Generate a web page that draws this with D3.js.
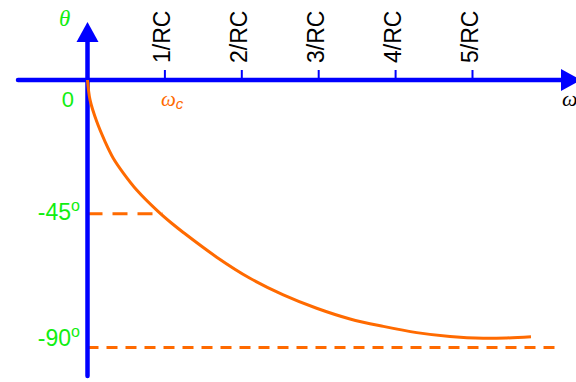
<!DOCTYPE html>
<html>
<head>
<meta charset="utf-8">
<script src="https://cdn.jsdelivr.net/npm/d3@7"></script>
<style>
html,body{margin:0;padding:0;background:#fff;}
svg{display:block;}
</style>
</head>
<body>
<svg id="chart" width="576" height="382"></svg>
<script>
// ---- data ----
const tickValues = [1, 2, 3, 4, 5];
const tickLabels = ["1/RC", "2/RC", "3/RC", "4/RC", "5/RC"];
const omega = [0, 0.033, 0.12, 0.228, 0.335, 0.466, 0.64, 0.917, 1.095, 1.246, 1.68, 2.113, 2.546, 2.98, 3.414, 3.847, 4.281, 4.714, 5.147, 5.45, 5.767];
const theta = [0, -6.7, -14.0, -20.7, -26.3, -31.3, -37.0, -44.2, -48.2, -51.3, -59.6, -66.7, -72.3, -76.8, -80.4, -82.9, -85.0, -86.3, -86.9, -86.8, -86.4];
const refLevels = [-45, -90];
const refEnds = [0.98, 6.17];
const yLabels = ["-45", "-90"];

// ---- scales ----
const x = d3.scaleLinear().domain([0, 1]).range([87.5, 164.4]);
const y = d3.scaleLinear().domain([0, -90]).range([80, 347.5]);

const svg = d3.select("#chart");
const BLUE = "#0000ff", ORANGE = "#ff6a00", GREEN = "#11ee11";

// reference dashed lines
const dashes = ["15,10", "11,8"];
refLevels.forEach((lv, i) => {
  svg.append("line")
    .attr("x1", x(0)).attr("x2", x(refEnds[i]))
    .attr("y1", y(lv)).attr("y2", y(lv))
    .attr("stroke", ORANGE).attr("stroke-width", 3)
    .attr("stroke-dasharray", dashes[i]);
});

// axes lines
svg.append("line").attr("x1", 18).attr("x2", 565).attr("y1", y(0)).attr("y2", y(0))
  .attr("stroke", BLUE).attr("stroke-width", 4.5).attr("stroke-linecap", "round");
svg.append("path").attr("d", `M561,${y(0)-11}L581,${y(0)}L561,${y(0)+11}Z`).attr("fill", BLUE);
svg.append("line").attr("x1", x(0)).attr("x2", x(0)).attr("y1", 40).attr("y2", 376)
  .attr("stroke", BLUE).attr("stroke-width", 4.5).attr("stroke-linecap", "round");
svg.append("path").attr("d", `M${x(0)-11},42L${x(0)},22L${x(0)+11},42Z`).attr("fill", BLUE);

// top ticks via d3 axis
const ax = svg.append("g").attr("transform", `translate(0,${y(0)})`)
  .call(d3.axisTop(x).tickValues(tickValues).tickSize(10)
    .tickFormat((d, i) => tickLabels[i]));
ax.select(".domain").remove();
ax.selectAll(".tick line").attr("stroke", BLUE).attr("stroke-width", 2);
ax.selectAll(".tick text")
  .attr("transform", "rotate(-90)")
  .attr("x", 17).attr("y", 5.5).attr("dy", 0)
  .attr("text-anchor", "start")
  .attr("fill", "#000")
  .style("font-family", "'Liberation Sans', Arial, sans-serif")
  .style("font-size", "23px");

// curve
const line = d3.line().x(d => x(d[0])).y(d => y(d[1])).curve(d3.curveCatmullRom.alpha(0.5));
svg.append("path")
  .datum(omega.map((w, i) => [w, theta[i]]))
  .attr("d", line)
  .attr("fill", "none").attr("stroke", ORANGE).attr("stroke-width", 3);

// y labels
const sans = "'Liberation Sans', Arial, sans-serif";
const serif = "'Liberation Serif', 'Times New Roman', serif";
svg.append("text").attr("x", 74).attr("y", 106.5).attr("text-anchor", "end")
  .attr("fill", GREEN).style("font-family", sans).style("font-size", "22px").text("0");
const lblY = [219.5, 346];
refLevels.forEach((lv, i) => {
  const t = svg.append("text").attr("x", 80).attr("y", lblY[i]).attr("text-anchor", "end")
    .attr("fill", GREEN).style("font-family", sans).style("font-size", "23px");
  t.append("tspan").text(yLabels[i]);
  t.append("tspan").attr("dy", -9).style("font-size", "16px").text("o");
});

// theta label
svg.append("text").attr("x", 59).attr("y", 26).attr("fill", GREEN)
  .style("font-family", serif).style("font-style", "italic").style("font-size", "23px").text("θ");

// omega_c label
const wc = svg.append("text").attr("x", 161).attr("y", 106).attr("fill", ORANGE)
  .style("font-family", serif).style("font-style", "italic").style("font-size", "21px");
wc.append("tspan").text("ω");
wc.append("tspan").attr("dy", 3).style("font-size", "15px").style("font-family", sans).text("c");

// omega axis label
svg.append("text").attr("x", 562).attr("y", 106).attr("fill", "#000")
  .style("font-family", serif).style("font-style", "italic").style("font-size", "22px").text("ω");
</script>
</body>
</html>
